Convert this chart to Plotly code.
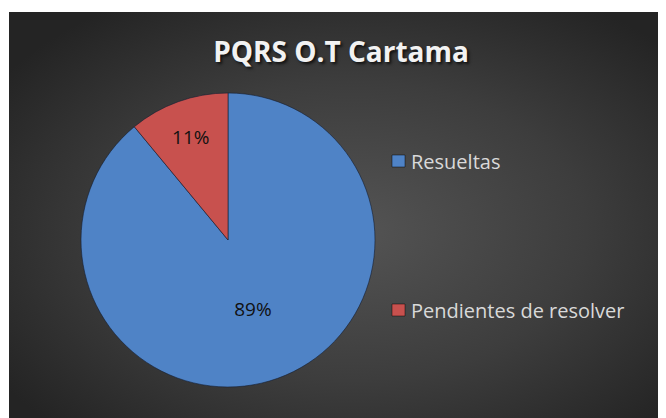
import base64
import plotly.graph_objects as go

labels = ["Resueltas", "Pendientes de resolver"]
values = [89, 11]
colors = ["#4f83c6", "#c8514e"]
title_text = "PQRS O.T Cartama"

W, H = 666, 418
OFF = 8  # page body margin offset

svg = (
    '<svg xmlns="http://www.w3.org/2000/svg" width="680" height="420">'
    '<defs><radialGradient id="g" cx="50%" cy="50%" r="62%">'
    '<stop offset="0" stop-color="#545454"/>'
    '<stop offset="0.55" stop-color="#3d3d3d"/>'
    '<stop offset="1" stop-color="#242424"/>'
    '</radialGradient></defs>'
    '<rect width="680" height="420" fill="url(#g)"/></svg>'
)
src = "data:image/svg+xml;base64," + base64.b64encode(svg.encode()).decode()

cx, cy, r = 228 - OFF, 240 - OFF, 147

fig = go.Figure(
    go.Pie(
        labels=labels,
        values=values,
        sort=False,
        direction="clockwise",
        rotation=0,
        marker=dict(colors=colors, line=dict(color="rgba(20,30,50,0.6)", width=1)),
        texttemplate="%{percent:.0%}",
        textposition="inside",
        insidetextorientation="horizontal",
        textfont=dict(family="Open Sans", size=19, color="#111111"),
        domain=dict(x=[(cx - r) / W, (cx + r) / W], y=[(H - cy - r) / H, (H - cy + r) / H]),
        showlegend=False,
        hoverinfo="label+percent",
    )
)

fig.add_layout_image(
    dict(source=src, xref="paper", yref="paper", x=1 / W, y=1 - 4 / H,
         sizex=(W + 20) / W, sizey=(H + 20) / H, xanchor="left", yanchor="top",
         sizing="stretch", layer="below")
)

# legend drawn as annotations + square swatches
leg_y = [161 - OFF, 310 - OFF]
for lab, col, yy in zip(labels, colors, leg_y):
    fig.add_shape(type="rect", xref="paper", yref="paper",
                  x0=(392 - OFF) / W, x1=(405 - OFF) / W,
                  y0=1 - (yy + 6) / H, y1=1 - (yy - 6) / H,
                  fillcolor=col, line=dict(color="rgba(0,0,0,0.45)", width=1))
    fig.add_annotation(text=lab, xref="paper", yref="paper", x=(409 - OFF) / W, y=1 - yy / H,
                       xanchor="left", yanchor="middle", showarrow=False,
                       font=dict(family="Open Sans", size=20, color="#d9d9d9"))

fig.update_layout(
    width=W, height=H,
    margin=dict(l=0, r=0, t=0, b=0),
    paper_bgcolor="white",
    plot_bgcolor="rgba(0,0,0,0)",
    title=dict(text="<b>" + title_text + "</b>", x=(341 - OFF) / W, xanchor="center",
               y=1 - (52 - OFF) / H, yanchor="middle", yref="paper",
               font=dict(family="Open Sans", size=28, color="#f2f2f2",
                         shadow="2px 2px 3px rgba(0,0,0,0.7)")),
)

fig.write_html("out.html")
